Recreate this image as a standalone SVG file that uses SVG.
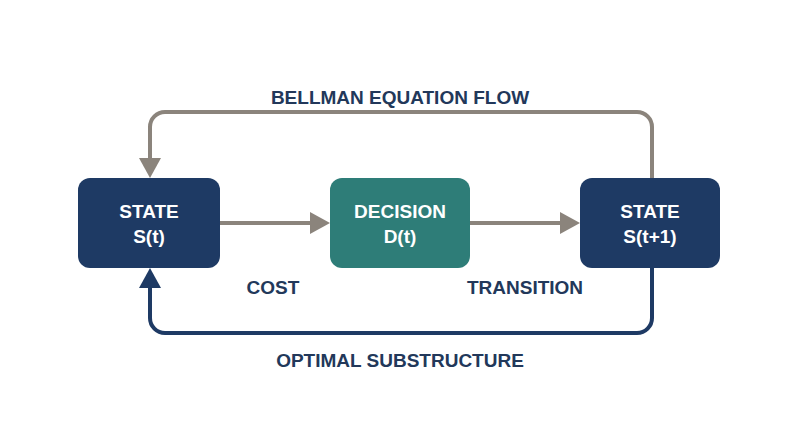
<svg xmlns="http://www.w3.org/2000/svg" width="800" height="447" viewBox="0 0 800 447">
<style>
.t{font-family:"Liberation Sans",Arial,sans-serif;font-weight:bold;text-anchor:middle}
.w{fill:#fff;font-size:19px}
.l{fill:#22385a;font-size:19px}
</style>
<defs>
<marker id="ag" markerWidth="8" markerHeight="8" refX="6" refY="4" orient="auto" markerUnits="userSpaceOnUse" viewBox="0 0 8 8"><path d="M0,0L8,4L0,8z" fill="#8b847c"/></marker>
<marker id="an" markerWidth="8" markerHeight="8" refX="6" refY="4" orient="auto" markerUnits="userSpaceOnUse" viewBox="0 0 8 8"><path d="M0,0L8,4L0,8z" fill="#1e3a64"/></marker>
</defs>
<rect width="800" height="447" fill="#fff"/>
<g id="connectors" fill="none" stroke-width="4">
<path d="M220,223H322" stroke="#8b847c" marker-end="url(#ag)" style="--m:0"/>
<path d="M470,223H572" stroke="#8b847c"/>
<path d="M330,223l-20,-11v22z" fill="#8b847c" stroke="none"/>
<path d="M580,223l-20,-11v22z" fill="#8b847c" stroke="none"/>
<path d="M652,178V127a15,15 0 0 0 -15,-15H165a15,15 0 0 0 -15,15V160" stroke="#8b847c"/>
<path d="M150,178l-11,-20h22z" fill="#8b847c" stroke="none"/>
<path d="M652,268V318a15,15 0 0 1 -15,15H165a15,15 0 0 1 -15,-15V286" stroke="#1e3a64"/>
<path d="M150,268l-11,20h22z" fill="#1e3a64" stroke="none"/>
</g>
<g id="n1"><rect x="78" y="178" width="142" height="90" rx="12" fill="#1e3a64"/><text class="t w" x="149" y="218">STATE</text><text class="t w" x="149" y="243">S(t)</text></g>
<g id="n2"><rect x="330" y="178" width="140" height="90" rx="12" fill="#2e7d78"/><text class="t w" x="400" y="218">DECISION</text><text class="t w" x="400" y="243">D(t)</text></g>
<g id="n3"><rect x="580" y="178" width="140" height="90" rx="12" fill="#1e3a64"/><text class="t w" x="650" y="218">STATE</text><text class="t w" x="650" y="243">S(t+1)</text></g>
<text class="t l" x="400" y="104">BELLMAN EQUATION FLOW</text>
<text class="t l" x="273" y="294">COST</text>
<text class="t l" x="525" y="294">TRANSITION</text>
<text class="t l" x="400" y="367">OPTIMAL SUBSTRUCTURE</text>
</svg>
